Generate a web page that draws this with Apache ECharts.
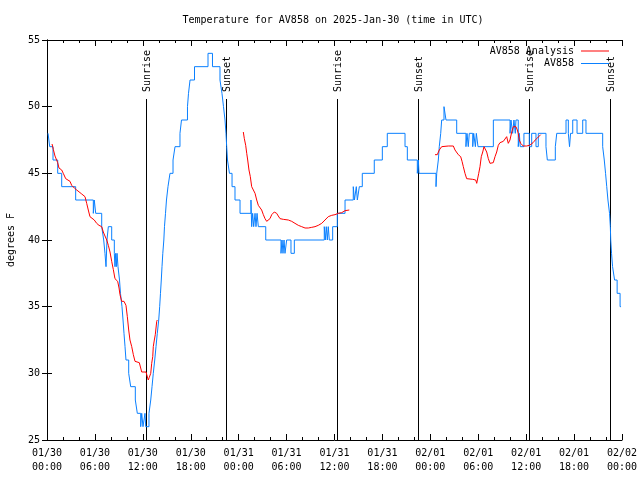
<!DOCTYPE html>
<html>
<head>
<meta charset="utf-8">
<script src="https://cdn.jsdelivr.net/npm/echarts@6/dist/echarts.min.js"></script>
<style>html,body{margin:0;padding:0;background:#fff}#c{width:640px;height:480px}</style>
</head>
<body>
<div id="c"></div>
<script>
// Hours since 2025-01-30 00:00 UTC
const obsHours = [0.13,0.34,0.75,1.34,1.84,3.59,5.80,5.92,6.10,6.85,7.10,7.26,7.39,7.51,7.68,8.10,8.43,8.51,8.60,8.68,8.77,8.89,9.08,9.20,9.39,9.52,9.64,9.77,9.89,10.23,10.48,11.06,11.31,11.73,11.86,12.02,12.27,12.36,12.77,12.99,13.15,13.31,13.49,13.65,13.81,13.99,14.11,14.21,14.31,14.40,14.50,14.63,14.71,14.84,14.96,15.15,15.40,15.78,16.03,16.65,16.84,17.59,17.72,17.91,18.47,20.16,20.72,21.66,21.91,22.10,22.29,22.41,22.50,22.60,22.85,23.17,23.54,24.17,25.54,25.63,25.75,25.88,26.05,26.17,26.30,26.46,27.39,29.30,29.43,29.55,29.68,29.80,30.01,30.55,30.97,34.72,34.85,34.97,35.10,35.22,35.35,35.77,36.35,37.32,38.35,38.50,38.73,38.86,39.11,39.48,40.98,41.99,42.61,44.83,45.12,46.37,46.50,46.58,48.71,48.80,49.00,49.12,49.30,49.42,49.71,49.96,51.30,52.46,52.59,52.75,52.88,53.31,53.43,53.64,53.76,53.97,55.89,57.98,58.10,58.31,58.47,58.64,58.72,59.01,59.14,59.26,59.72,60.39,60.69,61.23,61.52,62.48,62.65,63.65,63.83,64.99,65.28,65.43,65.56,65.83,66.37,67.08,67.49,69.58,69.78,69.94,70.09,70.24,70.44,70.54,70.59,70.69,70.82,71.07,71.39,71.76,71.88];
const obsTemps = [48,47,46,45,44,43,42,43,42,41,40,39,38,40,41,40,39,38,39,38,39,38,37,36,35,34,33,32,31,30,29,28,27,26,27,26,27,26,27,28,29,30,31,32,33,34,35,36,37,38,39,40,41,42,43,44,45,46,47,48,49,50,51,52,53,54,53,52,51,50,49,48,47,46,45,44,43,42,43,41,42,41,42,41,42,41,40,39,40,39,40,39,40,39,40,41,40,41,40,41,40,41,42,43,44,43,44,43,44,45,46,47,48,47,46,45,46,45,44,45,46,47,48,49,50,49,48,47,48,47,48,47,48,47,48,47,49,48,49,48,49,48,49,47,48,47,48,47,48,47,48,47,46,47,48,49,48,47,48,49,48,49,48,47,46,45,44,43,42,41,40,39,38,37,36,35,35];

const anaHours = [0.63,0.79,1.00,1.34,1.50,1.84,2.04,2.34,2.59,2.88,3.09,3.42,3.72,3.92,4.35,4.76,4.97,5.17,5.38,5.60,5.92,6.22,6.51,6.85,7.05,7.26,7.48,7.68,7.89,8.10,8.30,8.51,8.85,9.02,9.14,9.35,9.64,9.77,9.89,10.06,10.23,10.39,10.61,10.81,11.02,11.56,11.86,12.40,12.68,12.81,12.99,13.11,13.24,13.31,13.44,13.56,13.74,13.81,
  null,
  24.58,24.71,24.88,25.01,25.13,25.29,25.46,25.63,25.83,26.05,26.26,26.46,26.67,26.88,27.09,27.30,27.51,27.71,27.92,28.14,28.46,28.76,28.96,29.18,29.59,30.22,30.64,31.05,31.47,31.89,32.31,32.72,33.15,33.56,33.97,34.40,34.81,35.22,35.65,36.06,36.48,36.90,37.32,37.85,
  null,
  48.59,48.87,49.12,49.42,49.62,50.25,50.88,51.09,51.50,51.80,51.97,52.13,52.34,52.55,52.75,53.31,53.51,53.68,53.81,53.93,54.06,54.22,54.38,54.56,54.72,54.89,55.06,55.26,55.47,55.68,55.88,56.10,56.31,56.51,56.72,57.14,57.35,57.56,57.76,57.97,58.19,58.39,58.60,58.72,58.89,59.01,59.14,59.31,59.64,60.06,60.39,60.69,60.98,61.32,61.52,61.82];
const anaTemps = [47.2,46.8,46.3,45.8,45.4,45.25,45.0,44.6,44.5,44.4,44.1,43.9,43.75,43.7,43.45,43.25,42.75,42.25,41.75,41.6,41.5,41.25,41.1,41.0,40.6,40.3,40.0,39.6,39.1,38.4,37.8,37.1,36.9,36.4,35.9,35.4,35.4,35.5,35.1,34.25,33.25,32.5,32.0,31.4,30.9,30.8,30.1,30.1,29.5,29.7,30.0,30.75,31.25,32.0,32.5,32.9,33.9,34.0,
  null,
  48.1,47.6,47.1,46.5,46.0,45.25,44.75,44.0,43.9,43.5,43.0,42.6,42.5,42.25,41.9,41.6,41.4,41.4,41.6,41.9,42.1,42.0,41.8,41.6,41.55,41.5,41.4,41.25,41.1,41.0,40.9,40.9,40.95,41.0,41.1,41.25,41.5,41.75,41.85,41.9,42.0,42.05,42.2,42.25,
  null,
  46.4,46.4,46.75,47.0,47.1,47.05,47.05,46.75,46.4,46.25,45.9,45.5,45.0,44.6,44.5,44.55,44.6,44.5,44.25,44.4,45.0,45.5,46.25,46.6,47.0,46.9,46.6,46.1,45.75,45.6,45.8,46.25,46.6,47.1,47.3,47.4,47.5,47.75,47.25,47.5,48.1,48.5,48.6,48.5,48.25,48.0,47.5,47.25,47.05,47.05,47.1,47.2,47.4,47.6,47.75,47.9];

const sunHours = [12.43, 22.41, 36.35, 46.49, 60.39, 70.53];
const sunLabels = ['Sunrise', 'Sunset', 'Sunrise', 'Sunset', 'Sunrise', 'Sunset'];
const sunLineTop = 50.57;

const xTickLabels = ['01/30\n00:00','01/30\n06:00','01/30\n12:00','01/30\n18:00','01/31\n00:00','01/31\n06:00','01/31\n12:00','01/31\n18:00','02/01\n00:00','02/01\n06:00','02/01\n12:00','02/01\n18:00','02/02\n00:00'];
const yTicks = [25, 30, 35, 40, 45, 50, 55];

const FONT = '"DejaVu Sans Mono", monospace';
const obsData = obsHours.map((h, i) => [h, obsTemps[i]]);
const anaData = anaHours.map((h, i) => h === null ? ['-', '-'] : [h, anaTemps[i]]);

const chart = echarts.init(document.getElementById('c'), null, {renderer: 'canvas'});
const xBase = {
  type: 'value', min: 0, max: 72, interval: 6,
  axisLine: {show: true, lineStyle: {color: '#000', width: 1}},
  axisTick: {show: true, inside: true, length: 6, lineStyle: {color: '#000'}},
  minorTick: {show: true, splitNumber: 3, length: 3, lineStyle: {color: '#000'}},
  splitLine: {show: false}, minorSplitLine: {show: false}
};
const yBase = {
  type: 'value', min: yTicks[0], max: yTicks[yTicks.length - 1], interval: 5,
  axisLine: {show: true, lineStyle: {color: '#000', width: 1}},
  axisTick: {show: true, inside: true, length: 5, lineStyle: {color: '#000'}},
  splitLine: {show: false}
};
chart.setOption({
  animation: false,
  backgroundColor: '#fff',
  title: {
    text: 'Temperature for AV858 on 2025-Jan-30 (time in UTC)',
    left: 328, top: 10, textAlign: 'center',
    textStyle: {fontFamily: FONT, fontSize: 10, fontWeight: 'normal', color: '#000'}
  },
  legend: {
    orient: 'vertical', right: 26, top: 41, align: 'right',
    icon: 'rect', itemWidth: 28, itemHeight: 1, itemGap: 2.5,
    data: ['AV858 Analysis', 'AV858'],
    textStyle: {fontFamily: FONT, fontSize: 10, color: '#000', padding: [0, 2, 0, 0]}
  },
  grid: {left: 47, right: 18, top: 40, bottom: 40, show: false, outerBoundsMode: 'none', containLabel: false},
  xAxis: [
    Object.assign({}, xBase, {
      position: 'bottom',
      axisLabel: {
        margin: 6, fontFamily: FONT, fontSize: 10, color: '#000', lineHeight: 14,
        formatter: v => xTickLabels[Math.round(v / 6)]
      }
    }),
    Object.assign({}, xBase, {position: 'top', axisLabel: {show: false}})
  ],
  yAxis: [
    Object.assign({}, yBase, {
      position: 'left',
      name: 'degrees F', nameLocation: 'middle', nameGap: 31, nameRotate: 90,
      nameTextStyle: {fontFamily: FONT, fontSize: 10, color: '#000'},
      axisLabel: {margin: 7, fontFamily: FONT, fontSize: 10, color: '#000'}
    }),
    Object.assign({}, yBase, {position: 'right', axisLabel: {show: false}})
  ],
  series: [
    {
      type: 'custom', z: 1, silent: true,
      data: sunHours.map(h => [h]),
      encode: {x: 0},
      renderItem: (params, api) => {
        const h = api.value(0);
        const top = api.coord([h, sunLineTop]);
        const bot = api.coord([h, yTicks[0]]);
        const x = Math.round(top[0]) + 0.5;
        return {
          type: 'group',
          children: [
            {type: 'line', shape: {x1: x, y1: Math.round(top[1]), x2: x, y2: bot[1]},
             style: {stroke: '#000', lineWidth: 1}},
            {type: 'text', x: x + 1, y: Math.round(top[1]) - 7, rotation: Math.PI / 2,
             style: {text: sunLabels[params.dataIndex], font: '10px ' + FONT, fill: '#000',
                     align: 'left', verticalAlign: 'middle'}}
          ]
        };
      }
    },
    {
      name: 'AV858 Analysis', type: 'line', z: 3,
      data: anaData, symbol: 'none', connectNulls: false,
      lineStyle: {color: '#ff0000', width: 1}, itemStyle: {color: '#ff0000'}
    },
    {
      name: 'AV858', type: 'line', z: 2, step: 'end',
      data: obsData, symbol: 'none',
      lineStyle: {color: '#0a80ff', width: 1}, itemStyle: {color: '#0a80ff'}
    }
  ]
});
</script>
</body>
</html>
